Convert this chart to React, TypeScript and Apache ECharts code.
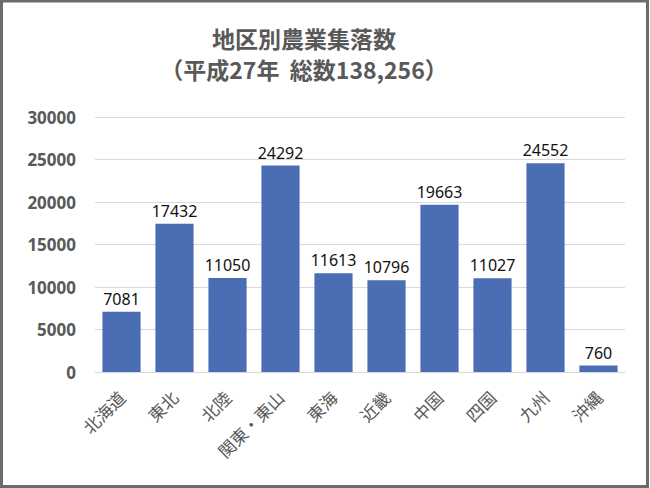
import React, { useEffect, useRef } from "react";
import * as echarts from "echarts";

const regions = ["北海道", "東北", "北陸", "関東・東山", "東海", "近畿", "中国", "四国", "九州", "沖縄"];
const counts = [7081, 17432, 11050, 24292, 11613, 10796, 19663, 11027, 24552, 760];
const titleLines = ["地区別農業集落数", "（平成27年  総数138,256）"];

export default function App() {
  const ref = useRef<HTMLDivElement>(null);
  useEffect(() => {
    document.body.style.margin = "0";
    const chart = echarts.init(ref.current!, null, { renderer: "svg" });
    const titleStyle = {
      fontFamily: "Noto Sans CJK JP",
      fontSize: 23,
      fontWeight: "bold",
      color: "#595959",
      lineHeight: 24,
    };
    chart.setOption({
      animation: false,
      backgroundColor: "#ffffff",
      title: titleLines.map((t, i) => ({
        text: t,
        left: 304,
        top: 26 + i * 31,
        padding: 0,
        textAlign: "center",
        textStyle: titleStyle,
      })),
      graphic: [
        {
          type: "rect",
          shape: { x: 1.5, y: 1, width: 646, height: 485.5 },
          style: { fill: "none", stroke: "#6b6b6b", lineWidth: 3 },
          silent: true,
        },
      ],
      grid: { left: 95, right: 25, top: 117, bottom: 116 },
      xAxis: {
        type: "category",
        data: regions,
        axisLine: { lineStyle: { color: "#d9d9d9" } },
        axisTick: { show: false },
        axisLabel: {
          interval: 0,
          rotate: 45,
          margin: 22,
          fontFamily: "Noto Sans CJK JP",
          fontSize: 17,
          color: "#595959",
        },
      },
      yAxis: {
        type: "value",
        min: 0,
        max: 30000,
        interval: 5000,
        axisLine: { show: false },
        axisTick: { show: false },
        splitLine: { lineStyle: { color: "#d9d9d9" } },
        axisLabel: {
          margin: 19,
          formatter: (v: number) => String(v),
          fontFamily: "Noto Sans",
          fontSize: 17,
          fontWeight: "bold",
          color: "#595959",
        },
      },
      series: [
        {
          type: "bar",
          data: counts,
          barCategoryGap: "28%",
          itemStyle: { color: "#4a6db3" },
          label: {
            show: true,
            position: "top",
            distance: 5,
            fontFamily: "Noto Sans",
            fontSize: 16,
            color: "#111111",
          },
        },
      ],
    });
    return () => chart.dispose();
  }, []);
  return <div ref={ref} style={{ width: 650, height: 488 }} />;
}
